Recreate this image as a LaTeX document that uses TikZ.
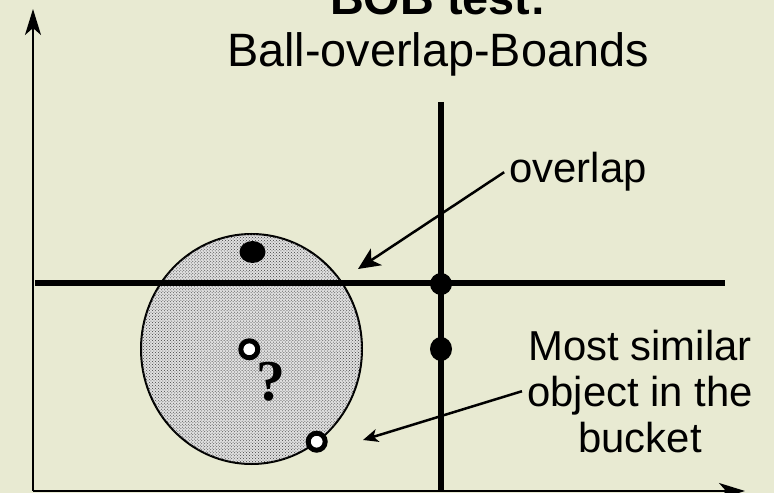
\documentclass[tikz,border=0pt]{standalone}
\usepackage{fontspec}
\setmainfont{Liberation Sans}
\newfontfamily\qfont{Liberation Serif}
\usetikzlibrary{arrows.meta,patterns,shapes.geometric}
\definecolor{slidebg}{RGB}{232,234,210}

\begin{document}
\begin{tikzpicture}[x=1bp, y=-1bp,
    axis/.style={line width=2bp, -{Stealth[length=26bp, width=16bp, inset=7bp]}},
    bound/.style={line width=5.5bp},
    ball/.style={draw, line width=2bp, fill=black!12, postaction={pattern=crosshatch dots, pattern color=black!75}},
    obj/.style={ellipse, fill=black, inner sep=0pt},
    qry/.style={circle, draw, line width=5bp, fill=white, inner sep=0pt, minimum size=17bp},
    lbl/.style={font=\fontsize{42}{46}\selectfont, align=center, inner sep=5bp},
    callout/.style={line width=2.5bp, -{Stealth[length=22bp, width=20bp, inset=6bp]}}
]
\fill[slidebg] (0,0) rectangle (774,493);
\useasboundingbox (0,0) rectangle (774,493);

% axes
\draw[axis] (33,491) -- (33,9);
\draw[axis] (33,491) -- (745,491);

% title
\node[font=\fontsize{47}{52}\selectfont\bfseries, anchor=base] (title) at (438,15) {BOB test:};
\node[font=\fontsize{47}{52}\selectfont, anchor=base] (subtitle) at (438,67) {Ball-overlap-Boands};

% query ball and bucket boundaries
\filldraw[ball] (251.5,349) ellipse [x radius=110.5, y radius=115];
\draw[bound] (35,283) -- (725,283);
\draw[bound] (441,102) -- (441,491);

% objects
\node[obj, minimum width=26bp, minimum height=22bp] (top) at (252.5,252) {};
\node[obj, minimum width=22bp, minimum height=22bp] (cross) at (441,284) {};
\node[obj, minimum width=22bp, minimum height=24bp] (near) at (441,349) {};
\node[qry] (q) at (249.3,349.3) {};
\node[qry] (best) at (316.7,441.7) {};
\node[font=\qfont\bfseries\fontsize{58}{60}\selectfont] (mark) at (270.7,382) {?};

% labels
\node[lbl, anchor=base] (ovl) at (578,183) {overlap};
\node[lbl, anchor=base] (sim) at (640,452) {Most similar\\object in the\\bucket};
\coordinate (ovltip) at (358,269);
\coordinate (simtip) at (363,440);
\draw[callout] (ovl.west) -- (ovltip);
\draw[callout, -{Stealth[length=15bp, width=13bp, inset=4bp]}] (sim.west) -- (simtip);
\end{tikzpicture}
\end{document}
